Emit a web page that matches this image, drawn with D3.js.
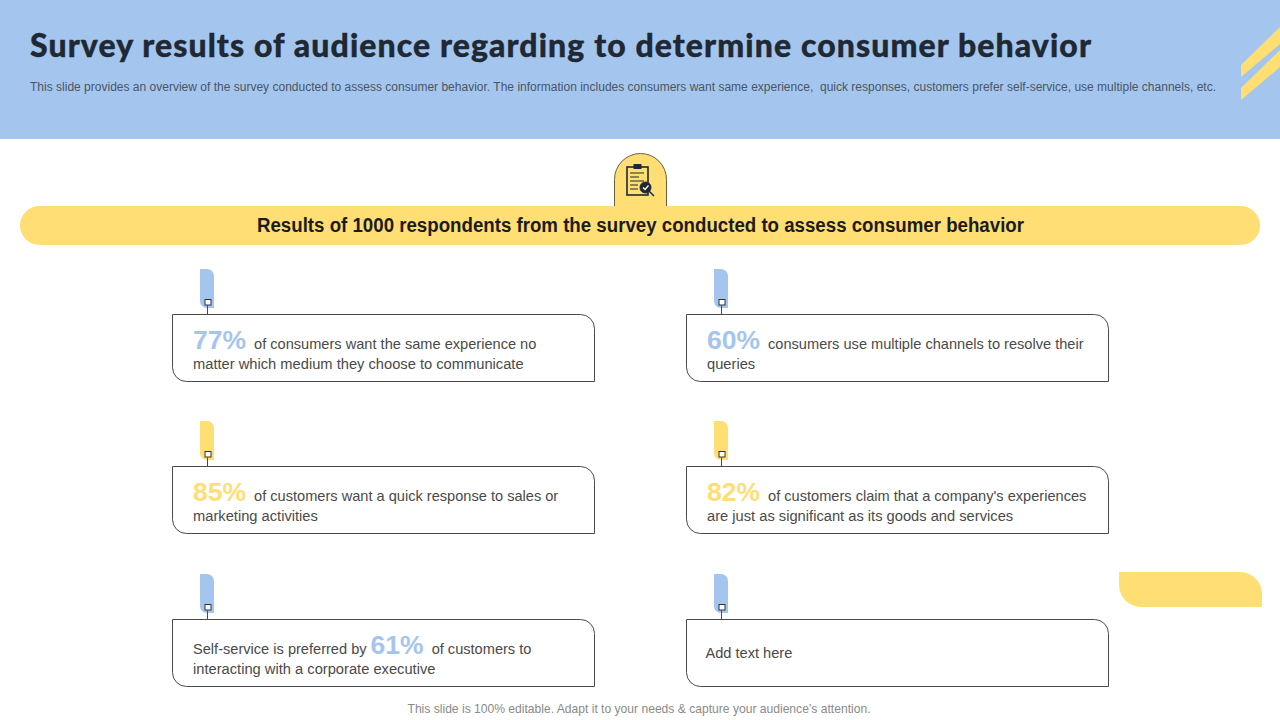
<!DOCTYPE html>
<html>
<head>
<meta charset="utf-8">
<script src="https://cdn.jsdelivr.net/npm/d3@7"></script>
<style>
  html, body { margin: 0; padding: 0; background: #fff; }
  svg { display: block; }
  text { font-family: "Liberation Sans", Arial, sans-serif; }
</style>
</head>
<body>
<div id="chart"></div>
<script>
var titleText = "Survey results of audience regarding to determine consumer behavior";
var subtitleText = "This slide provides an overview of the survey conducted to assess consumer behavior. The information includes consumers want same experience,  quick responses, customers prefer self-service, use multiple channels, etc.";
var bannerText = "Results of 1000 respondents from the survey conducted to assess consumer behavior";
var footerText = "This slide is 100% editable. Adapt it to your needs & capture your audience\u2019s attention.";

var columns = [0, 1];
var rows = [0, 1, 2];
var percents = [77, 60, 85, 82, 61, null];
var beforeText = ["", "", "", "", "Self-service is preferred by", "Add text here"];
var afterText = [
  "of consumers want the same experience no",
  "consumers use multiple channels to resolve their",
  "of customers want a quick response to sales or",
  "of customers claim that a company's experiences",
  "of customers to",
  ""
];
var secondLine = [
  "matter which medium they choose to communicate",
  "queries",
  "marketing activities",
  "are just as significant as its goods and services",
  "interacting with a corporate executive",
  ""
];
var rowColors = ["#A4C6EE", "#FFDE73", "#A4C6EE"];

var width = 1280,
    height = 720;

var blue = "#A4C6EE",
    yellow = "#FFDE73",
    dark = "#4a4a4a";

var svg = d3.select("#chart").append("svg")
    .attr("width", width)
    .attr("height", height);

// header
svg.append("rect").attr("width", width).attr("height", 139).attr("fill", blue);

svg.append("text")
    .attr("x", 30).attr("y", 57)
    .attr("textLength", 1061)
    .attr("lengthAdjust", "spacing")
    .style("font-family", "Lato, sans-serif")
    .style("font-weight", 900)
    .style("font-size", "32px")
    .attr("fill", "#1f2833")
    .attr("stroke", "#1f2833")
    .attr("stroke-width", 0.4)
    .text(titleText);

svg.append("text")
    .attr("x", 30).attr("y", 91)
    .attr("textLength", 1186)
    .attr("lengthAdjust", "spacingAndGlyphs")
    .style("font-size", "12px")
    .style("white-space", "pre")
    .attr("fill", "#4b5563")
    .text(subtitleText);

// stripes top right
[0, 1].forEach(function(i) {
  var off = i * 23;
  svg.append("path")
      .attr("d", "M1241 " + (65 + off) + "L1280 " + (27 + off) + "V" + (44 + off) + "L1241 " + (77 + off) + "Z")
      .attr("fill", yellow);
});

// icon tab
svg.append("path")
    .attr("d", "M614.5 207V179.5A26 26 0 0 1 666.5 179.5V207Z")
    .attr("fill", yellow)
    .attr("stroke", "#6b5f3a")
    .attr("stroke-width", 1);

var icon = svg.append("g").attr("fill", "none").attr("stroke", "#1f2833");
icon.append("rect").attr("x", 627).attr("y", 167).attr("width", 21).attr("height", 28).attr("stroke-width", 1.6);
icon.append("rect").attr("x", 634).attr("y", 164.5).attr("width", 7).attr("height", 4).attr("fill", "#1f2833");
[173, 177, 181].forEach(function(y, i) {
  icon.append("line").attr("x1", 630).attr("x2", i == 1 ? 639 : 644).attr("y1", y).attr("y2", y).attr("stroke-width", 1);
});
[185, 189].forEach(function(y) {
  icon.append("line").attr("x1", 630).attr("x2", 638).attr("y1", y).attr("y2", y).attr("stroke-width", 1);
});
icon.append("line").attr("x1", 649).attr("y1", 191).attr("x2", 654).attr("y2", 196).attr("stroke-width", 1.5);
icon.append("circle").attr("cx", 645.5).attr("cy", 187.5).attr("r", 5.5).attr("fill", "#1f2833");
icon.append("path").attr("d", "M643 187.5L645 189.5L648.5 185.5").attr("stroke", "#fff").attr("stroke-width", 1.2);

// banner
svg.append("rect")
    .attr("x", 20).attr("y", 206)
    .attr("width", 1240).attr("height", 39)
    .attr("rx", 19.5)
    .attr("fill", yellow);

svg.append("text")
    .attr("x", 640.5).attr("y", 232)
    .attr("text-anchor", "middle")
    .attr("textLength", 767)
    .attr("lengthAdjust", "spacingAndGlyphs")
    .style("font-size", "19.5px")
    .style("font-weight", "bold")
    .attr("fill", "#1c1c1c")
    .text(bannerText);

// cards
var x = d3.scaleOrdinal().domain(columns).range([172.5, 686.5]);
var y = d3.scaleOrdinal().domain(rows).range([314.5, 466.5, 619.5]);
var cardW = 422,
    cardH = 67,
    r = 14;

var cards = svg.selectAll("g.card")
    .data(percents)
  .enter().append("g")
    .attr("class", "card")
    .attr("transform", function(d, i) {
      return "translate(" + x(i % 2) + "," + y(Math.floor(i / 2)) + ")";
    });

// pin above the card
cards.append("path")
    .attr("d", "M27.5 -45.5H34.5A7 7 0 0 1 41.5 -38.5V-6.5H34.5A7 7 0 0 1 27.5 -13.5Z")
    .attr("fill", function(d, i) { return rowColors[Math.floor(i / 2)]; });

cards.append("line")
    .attr("x1", 35).attr("x2", 35)
    .attr("y1", -9).attr("y2", 0)
    .attr("stroke", dark);

cards.append("rect")
    .attr("x", 32.5).attr("y", -15)
    .attr("width", 6).attr("height", 5.5)
    .attr("fill", "#fff")
    .attr("stroke", "#333");

cards.append("path")
    .attr("d", "M0 0H" + (cardW - r) + "A" + r + " " + r + " 0 0 1 " + cardW + " " + r +
        "V" + cardH + "H" + r + "A" + r + " " + r + " 0 0 1 0 " + (cardH - r) + "Z")
    .attr("fill", "#fff")
    .attr("stroke", dark)
    .attr("stroke-width", 1);

var line1 = cards.append("text")
    .attr("x", function(d, i) { return i == 5 ? 19 : 20.5; })
    .attr("y", function(d, i) { return i == 5 ? 38.5 : 34.5; })
    .style("font-size", "14.6px")
    .attr("fill", dark);

line1.append("tspan")
    .text(function(d, i) { return beforeText[i]; });

line1.append("tspan")
    .attr("dx", function(d, i) { return beforeText[i] ? 4 : 0; })
    .style("font-size", "26.5px")
    .style("font-weight", "bold")
    .attr("fill", function(d, i) { return rowColors[Math.floor(i / 2)]; })
    .text(function(d) { return d == null ? "" : d + "%"; });

line1.append("tspan")
    .attr("dx", 8)
    .text(function(d, i) { return afterText[i]; });

cards.append("text")
    .attr("x", 20.5).attr("y", 54.5)
    .style("font-size", "14.7px")
    .attr("fill", dark)
    .text(function(d, i) { return secondLine[i]; });

// tab on the right
svg.append("path")
    .attr("d", "M1119 572H1240A22 22 0 0 1 1262 594V607H1141A22 22 0 0 1 1119 585Z")
    .attr("fill", yellow);

// footer
svg.append("text")
    .attr("x", 639).attr("y", 713)
    .attr("text-anchor", "middle")
    .style("font-size", "12.1px")
    .attr("fill", "#8a8a8a")
    .text(footerText);
</script>
</body>
</html>
